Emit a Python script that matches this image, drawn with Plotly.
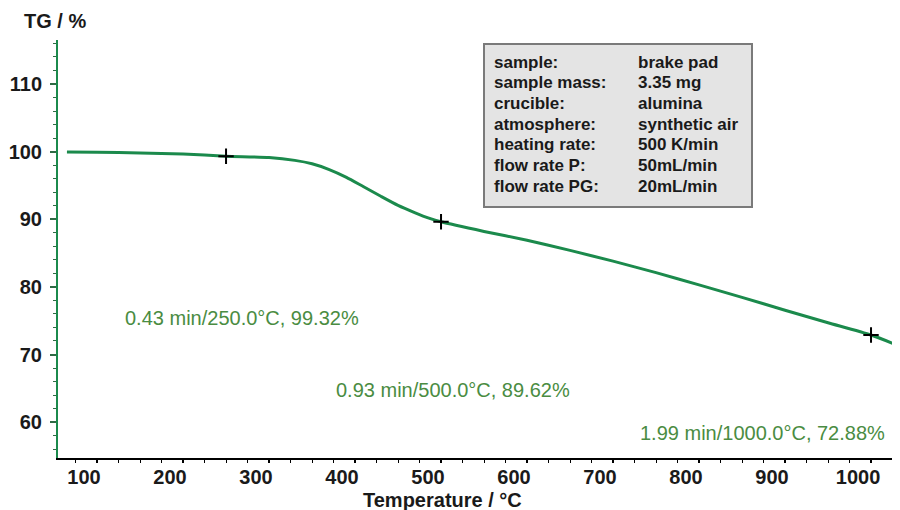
import plotly.graph_objects as go

# ---- data ----
temperature = [65, 100, 150, 200, 250, 300, 330, 350, 370, 390, 410, 430, 450, 470, 485, 500,
               550, 600, 650, 700, 750, 800, 850, 900, 950, 1000, 1040]
tg = [99.95, 99.9, 99.8, 99.65, 99.32, 99.12, 98.7, 98.2, 97.35, 96.2, 94.8, 93.4, 92.05, 90.95, 90.2, 89.62,
      88.2, 86.9, 85.4, 83.8, 82.1, 80.3, 78.45, 76.55, 74.7, 72.88, 70.9]

marker_temp = [250.0, 500.0, 1000.0]
marker_tg = [99.32, 89.62, 72.88]
marker_time = [0.43, 0.93, 1.99]
label_x = [130, 376, 729]
label_y = [75.4, 64.8, 58.4]

x_ticks = [100, 200, 300, 400, 500, 600, 700, 800, 900, 1000]
y_ticks = [60, 70, 80, 90, 100, 110]

info_labels = ["sample:", "sample mass:", "crucible:", "atmosphere:", "heating rate:", "flow rate P:", "flow rate PG:"]
info_values = ["brake pad", "3.35 mg", "alumina", "synthetic air", "500 K/min", "50mL/min", "20mL/min"]

# ---- styling ----
# the page body has an 8px default margin; the figure is sized/positioned to compensate
OFF = 8
W, H = 900 - OFF, 510 - OFF
PL, PT, PR, PB = 58, 40, 900, 458          # plot area in page pixels
ML, MT = PL - OFF, PT - OFF
PW, PH = PR - PL, PB - PT
MR, MB = W - ML - PW, H - MT - PH
FONT = "Liberation Sans, Arial, sans-serif"
GREEN = "#1b8a4c"
TXTGREEN = "#4a8c42"


def px(x):
    return (x - PL) / PW


def py(y):
    return (PB - y) / PH


fig = go.Figure()
fig.add_trace(go.Scatter(x=temperature, y=tg, mode="lines",
                         line=dict(color=GREEN, width=3, shape="spline", smoothing=0.6),
                         hoverinfo="skip", showlegend=False))
fig.add_trace(go.Scatter(x=marker_temp, y=marker_tg, mode="markers",
                         marker=dict(symbol="cross-thin", size=11, line=dict(color="black", width=2)),
                         showlegend=False))

annotations = []
for t, v, tm, lx, ly in zip(marker_temp, marker_tg, marker_time, label_x, label_y):
    annotations.append(dict(x=lx, y=ly, xref="x", yref="y", xanchor="left", yanchor="middle",
                            text=f"{tm:.2f} min/{t:.1f}°C, {v:.2f}%", showarrow=False,
                            font=dict(family=FONT, size=20, color=TXTGREEN)))

# info box text
line_top, line_step = 62, 20.7
for i, (lab, val) in enumerate(zip(info_labels, info_values)):
    yy = py(line_top + i * line_step)
    annotations.append(dict(x=px(492), y=yy, xref="paper", yref="paper", xanchor="left", yanchor="middle",
                            text=f"<b>{lab}</b>", showarrow=False,
                            font=dict(family=FONT, size=17, color="#1a1a1a")))
    annotations.append(dict(x=px(636), y=yy, xref="paper", yref="paper", xanchor="left", yanchor="middle",
                            text=f"<b>{val}</b>", showarrow=False,
                            font=dict(family=FONT, size=17, color="#1a1a1a")))

# axis titles
annotations.append(dict(x=px(22), y=py(21), xref="paper", yref="paper", xanchor="left", yanchor="middle",
                        text="<b>TG / %</b>", showarrow=False,
                        font=dict(family=FONT, size=20, color="#1a1a1a")))
annotations.append(dict(x=px(442), y=py(500), xref="paper", yref="paper", xanchor="center", yanchor="middle",
                        text="<b>Temperature / °C</b>", showarrow=False,
                        font=dict(family=FONT, size=20, color="#1a1a1a")))

fig.update_layout(
    width=W, height=H,
    margin=dict(l=ML, r=MR, t=MT, b=MB, pad=0, autoexpand=False),
    paper_bgcolor="white", plot_bgcolor="white",
    showlegend=False,
    annotations=annotations,
    shapes=[dict(type="rect", xref="paper", yref="paper",
                 x0=px(484), x1=px(752), y0=py(207), y1=py(44),
                 fillcolor="#e4e4e4", line=dict(color="#7a7a7a", width=2), layer="above")],
)

fig.update_xaxes(range=[54.6, 1033.7], tickvals=x_ticks, ticktext=[str(v) for v in x_ticks],
                 automargin=False,
                 showgrid=False, zeroline=False, showline=True, linecolor="black", linewidth=2,
                 ticks="outside", ticklen=3, tickwidth=1.5, tickcolor="black",
                 ticklabelshift=-13, ticklabelstandoff=-3,
                 tickfont=dict(family=FONT, size=20, color="#1a1a1a", weight="bold"),
                 minor=dict(dtick=25, tick0=0, ticks="outside", ticklen=3, tickcolor="black", tickwidth=1))

fig.update_yaxes(range=[54.7, 116.5], tickvals=y_ticks, ticktext=[str(v) for v in y_ticks],
                 automargin=False,
                 showgrid=False, zeroline=False, showline=True, linecolor=GREEN, linewidth=2,
                 ticks="outside", ticklen=6, tickwidth=1.5, tickcolor="#2f6b45",
                 ticklabelstandoff=4,
                 tickfont=dict(family=FONT, size=20, color="#1a1a1a", weight="bold"),
                 minor=dict(dtick=2, tick0=0, ticks="outside", ticklen=3, tickcolor="#2f6b45", tickwidth=1))

fig.write_html("out.html")
